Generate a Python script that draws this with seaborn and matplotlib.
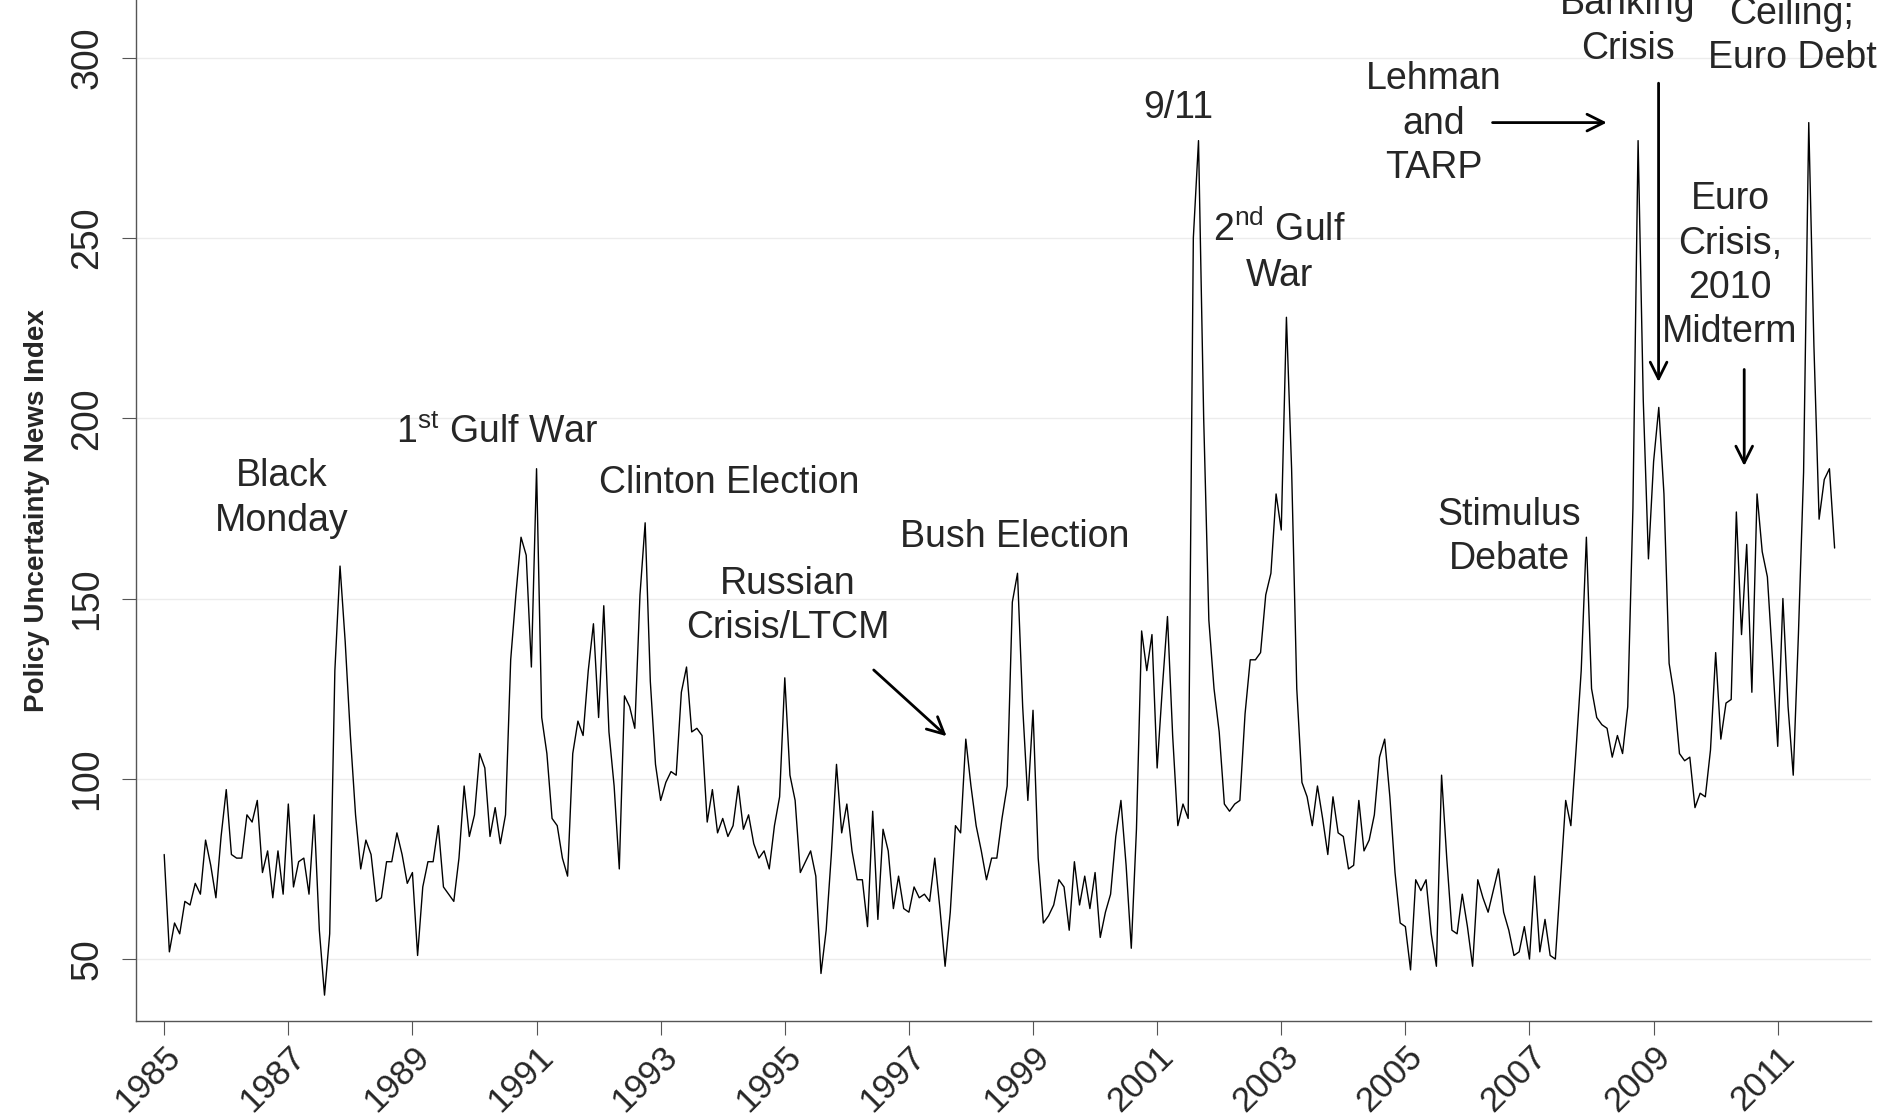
import numpy as np
import pandas as pd
import matplotlib
matplotlib.use('Agg')
import matplotlib.pyplot as plt
import seaborn as sns

sns.set_style('white')
plt.rcParams['font.family'] = ['Liberation Sans', 'DejaVu Sans']
plt.rcParams['mathtext.fontset'] = 'custom'
plt.rcParams['mathtext.rm'] = 'Liberation Sans'

# monthly index values, Jan 1985 - Dec 2011
years = list(range(1985, 2012))
values = [
    79, 52, 60, 57, 66, 65, 71, 68, 83, 76, 67, 84,
    97, 79, 78, 78, 90, 88, 94, 74, 80, 67, 80, 68,
    93, 70, 77, 78, 68, 90, 58, 40, 57, 130, 159, 138,
    112, 90, 75, 83, 79, 66, 67, 77, 77, 85, 79, 71,
    74, 51, 70, 77, 77, 87, 70, 68, 66, 78, 98, 84,
    90, 107, 103, 84, 92, 82, 90, 133, 151, 167, 162, 131,
    186, 117, 107, 89, 87, 78, 73, 107, 116, 112, 130, 143,
    117, 148, 113, 98, 75, 123, 120, 114, 151, 171, 127, 104,
    94, 99, 102, 101, 124, 131, 113, 114, 112, 88, 97, 85,
    89, 84, 87, 98, 86, 90, 82, 78, 80, 75, 87, 95,
    128, 101, 94, 74, 77, 80, 73, 46, 58, 79, 104, 85,
    93, 80, 72, 72, 59, 91, 61, 86, 80, 64, 73, 64,
    63, 70, 67, 68, 66, 78, 64, 48, 63, 87, 85, 111,
    98, 87, 80, 72, 78, 78, 89, 98, 149, 157, 120, 94,
    119, 78, 60, 62, 65, 72, 70, 58, 77, 65, 73, 64,
    74, 56, 63, 68, 84, 94, 76, 53, 86, 141, 130, 140,
    103, 125, 145, 112, 87, 93, 89, 250, 277, 200, 144, 125,
    113, 93, 91, 93, 94, 118, 133, 133, 135, 151, 157, 179,
    169, 228, 186, 125, 99, 95, 87, 98, 89, 79, 95, 85,
    84, 75, 76, 94, 80, 83, 90, 106, 111, 95, 74, 60,
    59, 47, 72, 69, 72, 57, 48, 101, 78, 58, 57, 68,
    59, 48, 72, 67, 63, 69, 75, 63, 58, 51, 52, 59,
    50, 73, 52, 61, 51, 50, 72, 94, 87, 108, 130, 167,
    125, 117, 115, 114, 106, 112, 107, 120, 175, 277, 205, 161,
    188, 203, 179, 132, 123, 107, 105, 106, 92, 96, 95, 108,
    135, 111, 121, 122, 174, 140, 165, 124, 179, 163, 156, 133,
    109, 150, 120, 101, 140, 185, 282, 220, 172, 183, 186, 164,
]
xtick_years = list(range(1985, 2012, 2))

# (text, x, y)
labels = [
    ('Black\nMonday', 1986.9, 177.7),
    ('1$^{\\rm st}$ Gulf War', 1990.36, 196),
    ('Clinton Election', 1994.1, 182),
    ('Russian\nCrisis/LTCM', 1995.05, 148),
    ('Bush Election', 1998.7, 167),
    ('9/11', 2001.34, 286),
    ('2$^{\\rm nd}$ Gulf\nWar', 2002.97, 246),
    ('Lehman\nand\nTARP', 2005.46, 281.7),
    ('Banking\nCrisis', 2008.58, 308.7),
    ('Ceiling;\nEuro Debt', 2011.23, 306),
    ('Euro\nCrisis,\n2010\nMidterm', 2010.23, 242.3),
    ('Stimulus\nDebate', 2006.67, 167),
]
# (x0, y0, x1, y1)
arrows = [
    (1996.4, 130.7, 1997.64, 111.3),
    (2006.36, 282, 2008.29, 282),
    (2009.08, 293.7, 2009.08, 209.3),
    (2010.46, 214.3, 2010.46, 186),
]

t = [y + m / 12 for y in years for m in range(12)]
df = pd.DataFrame({'t': t, 'v': values})

fig = plt.figure(figsize=(18.84, 11.2), dpi=100)
ax = fig.add_axes([0.072, 0.088, 0.921, 0.912])
sns.lineplot(data=df, x='t', y='v', ax=ax, color='black', linewidth=1.0)

ax.set_xlim(1984.54, 2012.5)
ax.set_ylim(32.7, 316)
ax.set_xticks(xtick_years)
ax.set_xticklabels([str(y) for y in xtick_years], rotation=45, ha='right',
                   rotation_mode='anchor', fontsize=25)
ax.set_yticks([50, 100, 150, 200, 250, 300])
ax.set_yticklabels(['50', '100', '150', '200', '250', '300'], rotation=90,
                   va='center', fontsize=27)
ax.tick_params(axis='both', length=10, width=0.8, color='#555555', direction='out',
               bottom=True, left=True)
ax.tick_params(axis='y', pad=12)
ax.grid(axis='y', color='#ececec', linewidth=1)
ax.set_xlabel('')
ax.set_ylabel('Policy Uncertainty News Index', fontsize=20, fontweight='bold', labelpad=14)
sns.despine(ax=ax)
for s in ['left', 'bottom']:
    ax.spines[s].set_color('#555555')
    ax.spines[s].set_linewidth(1)

for txt, x, y in labels:
    ax.text(x, y, txt, ha='center', va='center', fontsize=27, linespacing=1.3)
for x0, y0, x1, y1 in arrows:
    ax.annotate('', xy=(x1, y1), xytext=(x0, y0),
                arrowprops=dict(arrowstyle='->', color='black', lw=2, mutation_scale=30))

fig.savefig('out.png', dpi=100)
